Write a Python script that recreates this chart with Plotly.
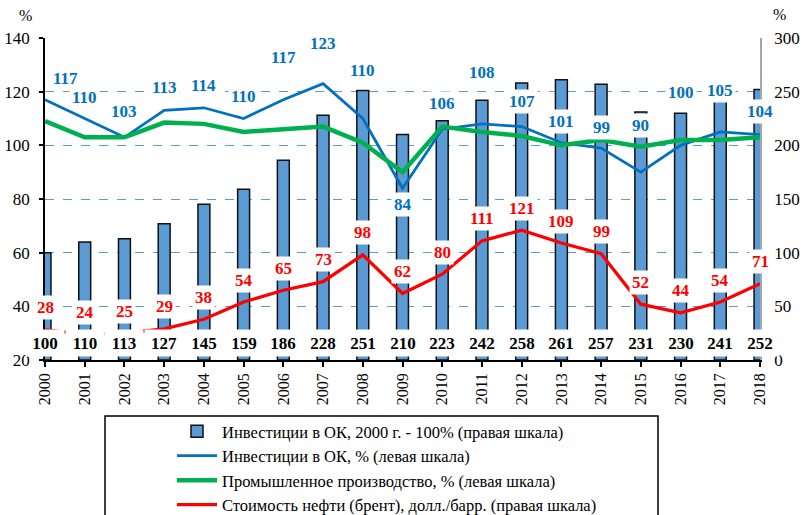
import plotly.graph_objects as go

# ---------------- data ----------------
years = list(range(2000, 2019))
invest_index = [100, 110, 113, 127, 145, 159, 186, 228, 251, 210, 223, 242, 258, 261, 257, 231, 230, 241, 252]
invest_pct = [117, 110, 103, 113, 114, 110, 117, 123, 110, 84, 106, 108, 107, 101, 99, 90, 100, 105, 104]
industry_pct = [109, 103, 103, 108.5, 108, 105, 106, 107, 101, 90, 107, 105, 103.5, 100, 102, 99.5, 102, 102, 103]
oil_price = [28, 24, 25, 29, 38, 54, 65, 73, 98, 62, 80, 111, 121, 109, 99, 52, 44, 54, 71]

names = [
    "Инвестиции в ОК, 2000 г. - 100% (правая шкала)",
    "Инвестиции в ОК, % (левая шкала)",
    "Промышленное производство, % (левая шкала)",
    "Стоимость нефти (брент), долл./барр. (правая шкала)",
]

# label placement (pixels above the point; layout only)
blue_label_up = [21, 21, 26, 23, 22, 22, 42, 40, 48, -16, 26, 51, 25, 21, 21, 47, 53, 41, 23]
blue_label_right = [20] + [0] * 18
red_label_up = 22

FONT = "Liberation Serif"
BAR_C = "#5B9BD5"
BLUE = "#0070C0"
GREEN = "#00B050"
RED = "#FF0000"

fig = go.Figure()

fig.add_trace(go.Bar(
    x=years, y=invest_index, name=names[0], yaxis="y",
    marker=dict(color=BAR_C, line=dict(color="#111111", width=1.5)),
    width=0.3, legendrank=1,
))
fig.add_trace(go.Scatter(
    x=years, y=oil_price, name=names[3], yaxis="y", mode="lines",
    line=dict(color=RED, width=3.25), legendrank=4,
))
fig.add_trace(go.Scatter(
    x=years, y=invest_pct, name=names[1], yaxis="y2", mode="lines",
    line=dict(color=BLUE, width=2.75), legendrank=2,
))
fig.add_trace(go.Scatter(
    x=years, y=industry_pct, name=names[2], yaxis="y2", mode="lines",
    line=dict(color=GREEN, width=4.5), legendrank=3,
))

ann = []
for i, yr in enumerate(years):
    ann.append(dict(
        x=yr, y=0, xref="x", yref="y", yshift=17, text=f"<b>{invest_index[i]}</b>",
        showarrow=False, bgcolor="white", width=36, height=24,
        font=dict(family=FONT, size=17, color="black"),
    ))
    ann.append(dict(
        x=yr, y=oil_price[i], xref="x", yref="y", yshift=red_label_up,
        text=f"<b>{oil_price[i]}</b>", showarrow=False, bgcolor="white", borderpad=2,
        font=dict(family=FONT, size=17, color=RED),
    ))
    ann.append(dict(
        x=yr, y=invest_pct[i], xref="x", yref="y2", yshift=blue_label_up[i],
        xshift=blue_label_right[i],
        text=f"<b>{invest_pct[i]}</b>", showarrow=False, bgcolor="white", borderpad=2,
        font=dict(family=FONT, size=17, color=BLUE),
    ))

L, R, T, B = 45, 43, 38, 155
W, H = 803, 515
pw, ph = W - L - R, H - T - B

ann.append(dict(x=(25 - L) / pw, y=(H - B - 15) / ph, xref="paper", yref="paper", text="%",
                xanchor="center", yanchor="middle",
                showarrow=False, font=dict(family=FONT, size=16, color="black")))
ann.append(dict(x=(779 - L) / pw, y=(H - B - 14) / ph, xref="paper", yref="paper", text="%",
                xanchor="center", yanchor="middle",
                showarrow=False, font=dict(family=FONT, size=16, color="black")))

fig.update_layout(
    width=W, height=H,
    margin=dict(l=L, r=R, t=T, b=B, pad=0, autoexpand=False),
    paper_bgcolor="white", plot_bgcolor="white",
    font=dict(family=FONT, size=17, color="black"),
    showlegend=True,
    xaxis=dict(
        range=[2000, 2018], tickmode="array", tickvals=years, ticktext=[str(y) for y in years],
        tickangle=-90, showgrid=False, showline=True, linecolor="black", linewidth=1.5,
        ticks="outside", ticklen=5, tickcolor="black", tickwidth=1.5, automargin=False,
        tickfont=dict(family=FONT, size=16, color="black"), zeroline=False,
    ),
    yaxis=dict(
        side="right", range=[0, 300], tickvals=[0, 50, 100, 150, 200, 250, 300],
        showgrid=True, gridcolor=BAR_C, griddash="dash", gridwidth=1,
        showline=True, linecolor="#A6A6A6", linewidth=1.5, ticks="", automargin=False,
        zeroline=False, ticklabelstandoff=9,
        tickfont=dict(family=FONT, size=17, color="black"),
    ),
    yaxis2=dict(
        side="left", overlaying="y", range=[20, 140], tickvals=[20, 40, 60, 80, 100, 120, 140],
        showgrid=False, showline=True, linecolor="black", linewidth=1.5, automargin=False,
        ticks="outside", ticklen=4, tickcolor="black", tickwidth=1.5,
        zeroline=False, ticklabelstandoff=6,
        tickfont=dict(family=FONT, size=17, color="black"),
    ),
    legend=dict(
        xref="container", yref="container",
        x=172 / W, y=1 - 414 / H, xanchor="left", yanchor="top",
        bgcolor="rgba(0,0,0,0)", borderwidth=0, itemwidth=40, tracegroupgap=0,
        font=dict(family=FONT, size=16.5, color="black"),
    ),
    annotations=ann,
    shapes=[dict(
        type="rect", xref="paper", yref="paper",
        x0=(105 - L) / pw, x1=(658 - L) / pw,
        y0=-(530 - (H - B)) / ph, y1=-(416 - (H - B)) / ph,
        line=dict(color="black", width=1.5), fillcolor="rgba(0,0,0,0)", layer="above",
    )],
)

fig.write_html(
    "out.html",
    config={"displayModeBar": False},
    post_script="document.body.style.margin='0';document.body.style.overflow='hidden';",
)
